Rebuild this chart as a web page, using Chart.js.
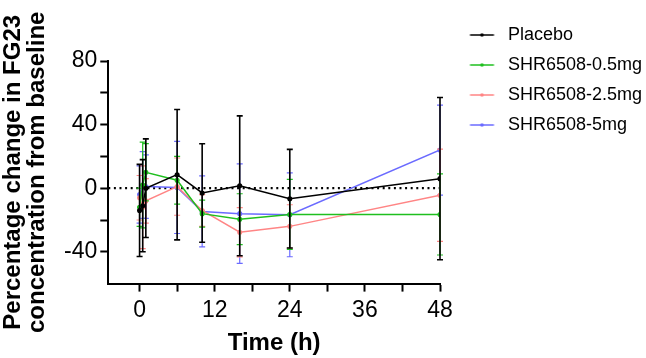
<!DOCTYPE html>
<html>
<head>
<meta charset="utf-8">
<script src="https://cdn.jsdelivr.net/npm/chart.js@4.4.0/dist/chart.umd.min.js"></script>
<style>
  html, body { margin: 0; padding: 0; background: #fff; }
  #wrap { width: 646px; height: 358px; }
</style>
</head>
<body>
<div id="wrap"><canvas id="myChart" width="646" height="358"></canvas></div>
<script>
// sampling times (h)
const times = [0, 0.5, 1, 6, 10, 16, 24, 48];

// mean % change and SD
const placeboMean = [-14, -11, 0, 8.5, -3, 1.5, -6.6, 6];
const placeboSd   = [29, 29, 31, 41, 31, 44, 31, 51];
const dose05Mean  = [-12, 2, 10, 5, -16, -19.5, -16.5, -16.5];
const dose05Sd    = [12, 27, 18, 15, 8.5, 16, 22, 25.5];
const dose25Mean  = [-6, -12, -8, 1, -14, -27.7, -24, -4.4];
const dose25Sd    = [14, 26, 14, 18, 10, 15.5, 13.6, 29];
const dose5Mean   = [-4, 2, 1, 0.5, -14.6, -16, -16.7, 24];
const dose5Sd     = [18, 21, 20, 29, 22.3, 31.3, 26.4, 28.3];

const seriesNames = ['Placebo', 'SHR6508-0.5mg', 'SHR6508-2.5mg', 'SHR6508-5mg'];

// axis ticks
const xTickValues = [0, 6, 12, 18, 24, 30, 36, 42, 48];
const xTickLabels = [0, 12, 24, 36, 48];
const yTickValues = [-40, -20, 0, 20, 40, 60, 80];
const yTickLabels = [-40, 0, 40, 80];

const colors = ['#000000', '#1fbf1f', '#ff8585', '#6b6bff'];
const FONT = 'Arial, "Liberation Sans", Helvetica, sans-serif';

function toPoints(means) {
  return times.map((t, i) => ({ x: t, y: means[i] }));
}

// legend glyph: short line with a dot in the middle
function legendGlyph(color) {
  const c = document.createElement('canvas');
  c.width = 48; c.height = 8;
  const g = c.getContext('2d');
  g.strokeStyle = color; g.lineWidth = 1.5;
  g.beginPath(); g.moveTo(18.5, 4); g.lineTo(42.5, 4); g.stroke();
  g.fillStyle = color;
  g.beginPath(); g.arc(30.5, 4, 1.8, 0, Math.PI * 2); g.fill();
  return c;
}

const means = [placeboMean, dose05Mean, dose25Mean, dose5Mean];
const sds = [placeboSd, dose05Sd, dose25Sd, dose5Sd];

const datasets = seriesNames.map((name, k) => ({
  label: name,
  data: toPoints(means[k]),
  sd: sds[k],
  borderColor: colors[k],
  backgroundColor: colors[k],
  borderWidth: 1.5,
  pointRadius: 1.8,
  pointHoverRadius: 1.8,
  tension: 0,
  glyph: legendGlyph(colors[k])
}));

// dotted zero line
datasets.push({
  label: 'zero',
  data: [{ x: -5, y: 0 }, { x: 48, y: 0 }],
  borderColor: '#000',
  borderWidth: 2.2,
  borderDash: [2, 3.6],
  pointRadius: 0,
  tension: 0
});

const errorBars = {
  id: 'errorBars',
  afterDatasetDraw(chart, args) {
    const ds = chart.data.datasets[args.index];
    if (!ds.sd) return;
    const ctx = chart.ctx;
    const x = chart.scales.x, y = chart.scales.y;
    ctx.save();
    ctx.strokeStyle = ds.borderColor;
    ctx.lineWidth = args.index === 0 ? 1.6 : 1.2;
    ds.data.forEach((p, i) => {
      const px = x.getPixelForValue(p.x);
      const top = y.getPixelForValue(p.y + ds.sd[i]);
      const bot = y.getPixelForValue(p.y - ds.sd[i]);
      ctx.beginPath();
      ctx.moveTo(px, top); ctx.lineTo(px, bot);
      ctx.moveTo(px - 3, top); ctx.lineTo(px + 3, top);
      ctx.moveTo(px - 3, bot); ctx.lineTo(px + 3, bot);
      ctx.stroke();
    });
    ctx.restore();
  }
};

// legend lives outside the layout; move it to the right of the plot
const legendPlace = {
  id: 'legendPlace',
  afterLayout(chart) {
    const lg = chart.legend;
    if (!lg) return;
    const w = lg.width, h = lg.height;
    lg.left = chart.chartArea.right;
    lg.top = 14;
    lg.right = lg.left + w;
    lg.bottom = lg.top + h;
  }
};

const config = {
  type: 'line',
  data: { datasets: datasets },
  options: {
    responsive: false,
    animation: false,
    layout: { padding: { top: 14, left: 0, right: 0, bottom: 0 } },
    plugins: {
      tooltip: { enabled: false },
      legend: {
        position: 'chartArea',
        align: 'start',
        labels: {
          usePointStyle: true,
          pointStyleWidth: 47,
          padding: 12,
          color: '#000',
          font: { family: FONT, size: 18 },
          generateLabels(chart) {
            return chart.data.datasets
              .map((ds, i) => ({
                text: ds.label,
                pointStyle: ds.glyph,
                fillStyle: ds.borderColor,
                strokeStyle: ds.borderColor,
                fontColor: '#000',
                lineWidth: 0,
                datasetIndex: i
              }))
              .filter(item => chart.data.datasets[item.datasetIndex].sd);
          }
        }
      }
    },
    scales: {
      x: {
        type: 'linear',
        min: -5,
        max: 48,
        afterBuildTicks(scale) {
          scale.ticks = xTickValues.map(v => ({ value: v }));
        },
        afterFit(scale) {
          scale.paddingRight = 206;
        },
        ticks: {
          color: '#000',
          padding: 5,
          maxRotation: 0,
          font: { family: FONT, size: 23 },
          callback: v => xTickLabels.includes(v) ? String(v) : ''
        },
        grid: { drawOnChartArea: false, tickLength: 8, tickWidth: 2, tickColor: '#000' },
        border: { color: '#000', width: 2 },
        title: {
          display: true,
          text: 'Time (h)',
          color: '#000',
          font: { family: FONT, size: 24, weight: 'bold' },
          padding: { top: 0, bottom: 0 }
        }
      },
      y: {
        min: -60,
        max: 80,
        afterBuildTicks(scale) {
          scale.ticks = yTickValues.map(v => ({ value: v }));
        },
        afterFit(scale) {
          scale.paddingTop = 61;
        },
        ticks: {
          color: '#000',
          padding: 3,
          font: { family: FONT, size: 23 },
          callback: v => yTickLabels.includes(v) ? String(v) : ''
        },
        grid: { drawOnChartArea: false, tickLength: 8, tickWidth: 2, tickColor: '#000' },
        border: { color: '#000', width: 2 },
        title: {
          display: true,
          text: ['Percentage change in FG23', 'concentration from baseline'],
          color: '#000',
          font: { family: FONT, size: 24, weight: 'bold', lineHeight: 0.98 },
          padding: { top: 2, bottom: 12 }
        }
      }
    }
  },
  plugins: [errorBars, legendPlace]
};

const myChart = new Chart(document.getElementById('myChart'), config);
</script>
</body>
</html>
